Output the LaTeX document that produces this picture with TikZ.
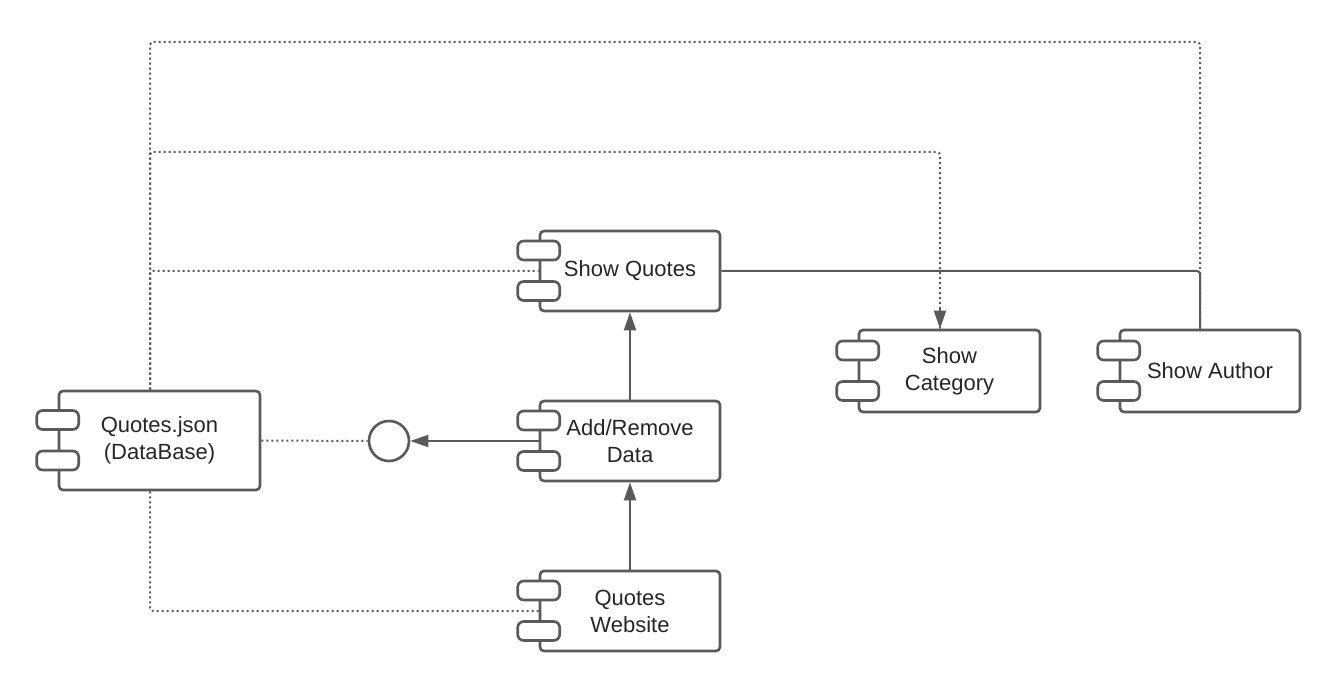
\documentclass[tikz,border=0pt]{standalone}
\usepackage{fontspec}
\setmainfont{Liberation Sans}
\usetikzlibrary{arrows.meta}
\definecolor{gc}{HTML}{5A5A5A}
\begin{document}
\begin{tikzpicture}[x=1pt,y=-1pt,
  comp/.style={draw=gc, line width=2.6pt, rounded corners=4pt, fill=white,
    minimum width=180pt, minimum height=80pt, align=center, text=black!85,
    font=\fontsize{22}{27}\selectfont, inner sep=0pt},
  port/.style={draw=gc, line width=2.6pt, rounded corners=6pt, fill=white,
    minimum width=42pt, minimum height=19pt, inner sep=0pt},
  iface/.style={draw=gc, line width=2.6pt, circle, minimum size=40pt, inner sep=0pt, fill=white},
  solidline/.style={draw=gc, line width=2pt, rounded corners=3pt},
  dotline/.style={draw=gc, line width=2pt, dash pattern=on 2pt off 3pt, rounded corners=3pt},
  tip/.style={-{Triangle[length=18pt,width=12pt]}}
]
\useasboundingbox (0,0) rectangle (1340,692);
\fill[white] (0,0) rectangle (1340,692);

% components
\node[comp, minimum width=201pt, minimum height=99pt] (db) at (159.5,440.5) {Quotes.json\\(DataBase)};
\node[comp] (sq) at (630,271) {Show Quotes};
\node[comp] (ar) at (630,441) {Add/Remove\\Data};
\node[comp] (qw) at (630,611) {Quotes\\Website};
\node[comp, minimum width=181pt, minimum height=82pt] (sc) at (949.5,371) {Show\\Category};
\node[comp, minimum width=180pt, minimum height=82pt] (sa) at (1210,371) {Show Author};
\node[iface] (ci) at (389,441) {};

% ports
\foreach \n in {db,sq,ar,qw,sc,sa}{
  \node[port] (\n-p1) at ([yshift=20.5pt]\n.west) {};
  \node[port] (\n-p2) at ([yshift=-20pt]\n.west) {};
}

% anchor points for routed connectors
\coordinate (dbt) at ([xshift=-9.5pt]db.north);
\coordinate (dbb) at ([xshift=-9.5pt]db.south);
\coordinate (sct) at ([xshift=-9.5pt]sc.north);
\coordinate (sat) at ([xshift=-10pt]sa.north);

% dotted dependencies
\draw[dotline] (dbt) |- (1200,42) -- (sat);
\draw[dotline] (dbt) |- (940,152) -- (sct);
\draw[solidline, tip] ([yshift=20pt]sct) -- (sct);
\draw[dotline] (dbt) |- (sq.west);
\draw[dotline] (dbb) |- (qw.west);
\draw[dotline] (db.east) -- (ci.west);

% solid connectors
\draw[solidline] (sq.east) -| (sat);
\draw[solidline, tip] (ar.west) -- (ci.east);
\draw[solidline, tip] (ar.north) -- (sq.south);
\draw[solidline, tip] (qw.north) -- (ar.south);
\end{tikzpicture}
\end{document}
